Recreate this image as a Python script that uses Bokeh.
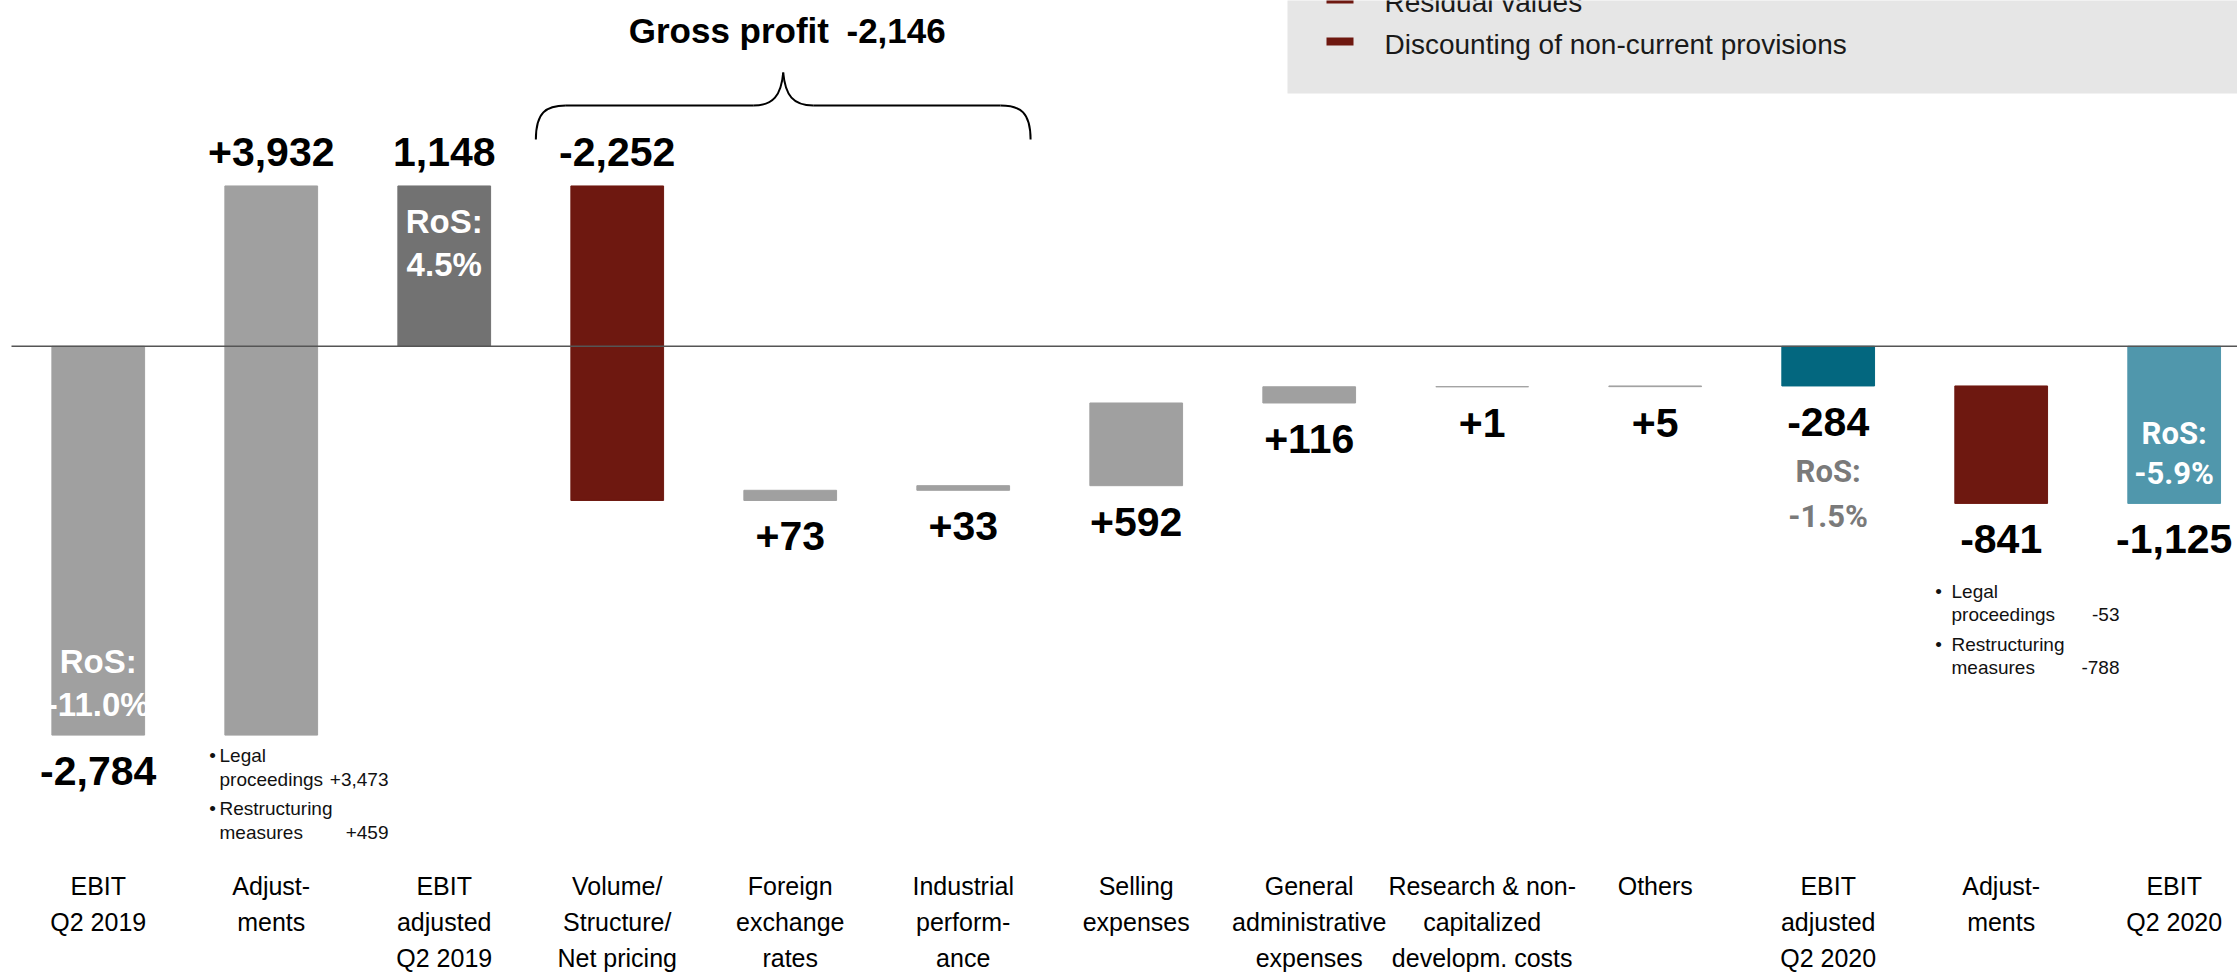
from bokeh.plotting import figure
from bokeh.models import Range1d
from bokeh.core.properties import value
from bokeh.embed import file_html
from bokeh.resources import INLINE

# ---------------- data ----------------
categories = ["EBIT\nQ2 2019", "Adjust-\nments", "EBIT\nadjusted\nQ2 2019",
              "Volume/\nStructure/\nNet pricing", "Foreign\nexchange\nrates",
              "Industrial\nperform-\nance", "Selling\nexpenses",
              "General\nadministrative\nexpenses",
              "Research & non-\ncapitalized\ndevelopm. costs", "Others",
              "EBIT\nadjusted\nQ2 2020", "Adjust-\nments", "EBIT\nQ2 2020"]
amounts = [-2784, 3932, 1148, -2252, 73, 33, 592, 116, 1, 5, -284, -841, -1125]
is_total = [True, False, True, False, False, False, False, False, False, False,
            True, False, True]
ros_values = ["-11.0%", None, "4.5%", None, None, None, None, None, None, None,
              "-1.5%", None, "-5.9%"]
gross_profit = -2146
gross_profit_span = [3, 5]           # first and last category under the brace
legend_items = ["Residual values", "Discounting of non-current provisions"]
notes_adj_2019 = [("Legal", "proceedings", "+3,473"), ("Restructuring", "measures", "+459")]
notes_adj_2020 = [("Legal", "proceedings", "-53"), ("Restructuring", "measures", "-788")]

# ---------------- styles ----------------
LIGHT = "#a0a0a0"
DARK = "#727272"
RED = "#6e1810"
TEAL = "#03677f"
LTEAL = "#5097ac"
colors = [LIGHT, LIGHT, DARK, RED, LIGHT, LIGHT, LIGHT, LIGHT, LIGHT, LIGHT, TEAL, RED, LTEAL]
label_above = {1, 2, 3}

SANS = "Liberation Sans, Arial, sans-serif"
ROBOTO = "Roboto, sans-serif"

W, H = 2237, 973
X0, X1 = -0.565, 12.366
Y0, Y1 = -4491.0, 2476.0
UPP = (Y1 - Y0) / H          # data units per pixel (vertical)
UPX = (X1 - X0) / W          # data units per pixel (horizontal)


def dx(px):
    return X0 + px * UPX


def dy(py):
    return Y1 - py * UPP


# waterfall geometry from the amounts
bottoms, tops = [], []
running = 0
for a, t in zip(amounts, is_total):
    if t:
        start, end = 0, a
    else:
        start, end = running, running + a
    running = end
    bottoms.append(min(start, end))
    tops.append(max(start, end))

idx = list(range(len(amounts)))
BAR_W = 0.536

p = figure(width=W, height=H, x_range=Range1d(X0, X1), y_range=Range1d(Y0, Y1),
           output_backend="svg", toolbar_location=None, min_border=0,
           outline_line_color=None, background_fill_color="white")
p.axis.visible = False
p.grid.visible = False

# legend box (partially cut off at top)
p.quad(left=[dx(1287)], right=[X1 + 1], bottom=[dy(93)], top=[Y1 + 500],
       fill_color="#e6e6e6", line_color=None)
leg_y = [-1, 41]
p.quad(left=[dx(1326)] * 2, right=[dx(1353)] * 2,
       bottom=[dy(y + 4) for y in leg_y], top=[dy(y - 4) for y in leg_y],
       fill_color=RED, line_color=None)
p.text(x=[dx(1384)] * 2, y=[dy(y + 3) for y in leg_y], text=legend_items,
       text_font=value(SANS), text_font_size="28px", text_color="#1a1a1a",
       text_baseline="middle", text_align="left")

# bars
p.vbar(x=idx, width=BAR_W, bottom=bottoms, top=tops, fill_color=colors,
       line_color=colors, line_width=1)

# zero line
p.segment(x0=[dx(11)], y0=[0], x1=[X1], y1=[0], line_color="#555555", line_width=1.5)

# value labels
val_text, val_y = [], []
for i, (a, t) in enumerate(zip(amounts, is_total)):
    val_text.append(f"{a:,}" if t else f"{a:+,}")
    if i in label_above:
        val_y.append(tops[i] + 34 * UPP)
    else:
        val_y.append(bottoms[i] - 36 * UPP)
p.text(x=idx, y=val_y, text=val_text, text_font=value(SANS), text_font_style="bold",
       text_font_size="41px", text_color="#000000", text_align="center",
       text_baseline="middle")

# RoS labels
ros_x, ros_t = [], []
for i in (0, 2):
    ros_x.append(i)
    ros_t.append("RoS:\n" + ros_values[i])
ros_y = [bottoms[0] + 52 * UPP, tops[2] - 57 * UPP]
p.text(x=ros_x, y=ros_y, text=ros_t, text_font=value(SANS), text_font_style="bold",
       text_font_size="33px", text_color="white", text_align="center",
       text_baseline="middle", text_line_height=1.15)
p.text(x=[12], y=[bottoms[12] + 50 * UPP], text=["RoS:\n" + ros_values[12]],
       text_font=value(ROBOTO), text_font_style="bold", text_font_size="31px",
       text_color="white", text_align="center", text_baseline="middle",
       text_line_height=1.08)
p.text(x=[10], y=[bottoms[10] - 108 * UPP], text=["RoS:\n" + ros_values[10]],
       text_font=value(ROBOTO), text_font_style="bold", text_font_size="31px",
       text_color="#7a7a7a", text_align="center", text_baseline="middle",
       text_line_height=1.2)

# category labels
p.text(x=idx, y=[dy(871)] * len(idx), text=categories, text_font=value(SANS),
       text_font_size="25px", text_color="#000000", text_align="center",
       text_baseline="top", text_line_height=1.3)

# brace for gross profit
bx0 = gross_profit_span[0] - BAR_W / 2 - 35 * UPX
bx1 = gross_profit_span[1] + BAR_W / 2 + 21 * UPX
bxm = (bx0 + bx1) / 2
yb, ya, yt = dy(139), dy(105), dy(72)
h = 30 * UPX
p.bezier(x0=[bx0, bxm - h, bxm, bx1],
         y0=[yb, ya, yt, yb],
         x1=[bx0 + h, bxm, bxm + h, bx1 - h],
         y1=[ya, yt, ya, ya],
         cx0=[bx0, bxm - h + 20 * UPX, bxm + 2 * UPX, bx1],
         cy0=[dy(112), ya, dy(95), dy(112)],
         cx1=[bx0 + 10 * UPX, bxm - 2 * UPX, bxm + h - 20 * UPX, bx1 - 10 * UPX],
         cy1=[ya, dy(95), ya, ya],
         line_color="black", line_width=2)
p.segment(x0=[bx0 + h, bxm + h], y0=[ya, ya], x1=[bxm - h, bx1 - h], y1=[ya, ya],
          line_color="black", line_width=2)
p.text(x=[bxm + 4 * UPX], y=[dy(30)], text=[f"Gross profit\u2002{gross_profit:,}"],
       text_font=value(SANS), text_font_style="bold", text_font_size="35px",
       text_color="#000000", text_align="center", text_baseline="middle")


# notes under adjustment bars
def notes(items, bullet_px, text_px, right_px, line_px):
    bx, by, tx, ty, tt, vx, vy, vt = [], [], [], [], [], [], [], []
    for k, (l1, l2, v) in enumerate(items):
        y1 = line_px[2 * k]
        y2 = line_px[2 * k + 1]
        bx.append(dx(bullet_px)); by.append(dy(y1))
        tx += [dx(text_px)] * 2; ty += [dy(y1), dy(y2)]; tt += [l1, l2]
        vx.append(dx(right_px)); vy.append(dy(y2)); vt.append(v)
    common = dict(text_font=value(SANS), text_font_size="19px", text_color="#111111",
                  text_baseline="middle")
    p.text(x=bx, y=by, text=["\u2022"] * len(bx), text_align="center", **common)
    p.text(x=tx, y=ty, text=tt, text_align="left", **common)
    p.text(x=vx, y=vy, text=vt, text_align="right", **common)


notes(notes_adj_2019, 212, 219, 388, [755, 779, 808, 832])
notes(notes_adj_2020, 1938, 1951, 2119, [591, 614, 644, 667])

open("out.html", "w").write(file_html(p, INLINE))
